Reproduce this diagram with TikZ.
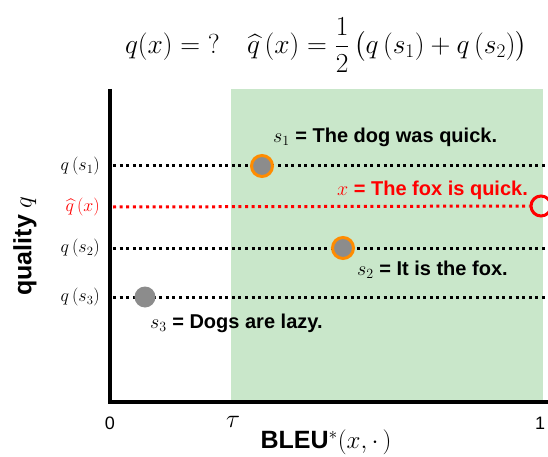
\RequirePackage{fix-cm}
\documentclass[tikz,border=0pt]{standalone}
\usepackage{amsmath}
\usepackage{fontspec}
\setsansfont{Liberation Sans}
\definecolor{regiongreen}{RGB}{201,231,202}
\definecolor{ringorange}{RGB}{255,140,0}
\definecolor{dotgray}{RGB}{140,140,140}
\tikzset{
  qline/.style={line width=3pt,dash pattern=on 3pt off 3.6pt},
  sample/.style={circle,fill=dotgray,draw=ringorange,line width=3pt,minimum size=21pt,inner sep=0pt},
  plainsample/.style={circle,fill=dotgray,minimum size=21pt,inner sep=0pt},
  qlabel/.style={anchor=east,font=\fontsize{18}{22}\selectfont,inner sep=0pt},
  sentence/.style={anchor=west,font=\fontsize{20}{24}\selectfont\sffamily\bfseries,inner sep=0pt},
  ticklabel/.style={inner sep=0pt,font=\fontsize{18}{20}\selectfont\sffamily}
}
\begin{document}
\begin{tikzpicture}[x=1pt,y=-1pt]
      \useasboundingbox (0,0) rectangle (548,457);

      % Region above the threshold
      \fill[regiongreen] (231,89) rectangle (543,402);

      % Axes
      \coordinate (origin) at (110,402);
      \draw[line width=4pt] (110,89)--(origin)--(548,402);
      \node[ticklabel] (tick0) at (110,423) {0};
      \node[ticklabel,font=\fontsize{26}{28}\selectfont] (ticktau) at (233,422) {$\tau$};
      \node[ticklabel] (tick1) at (540,423) {1};
      \node[inner sep=0pt,font=\fontsize{25}{28}\selectfont\sffamily\bfseries] (xlabel) at (326,442) {BLEU$^{\mathbf{*}}(x,\cdot\,)$};
      \node[rotate=90,inner sep=0pt,font=\fontsize{25}{28}\selectfont\sffamily\bfseries] (ylabel) at (25,246) {quality \textmd{$q$}};

      % Estimate
      \node[inner sep=0pt,font=\fontsize{27.5}{32}\selectfont] (formula) at (326,45)
        {$q(x) = {?} \quad \widehat{q}\,(x) = \dfrac{1}{2}\,\bigl(q\,(s_1) + q\,(s_2)\bigr)$};

      % Quality levels
      \node[qlabel] (l1) at (100,166) {$q\,(s_1)$};
      \node[qlabel,red] (lx) at (100,207) {$\widehat{q}\,(x)$};
      \node[qlabel] (l2) at (100,248) {$q\,(s_2)$};
      \node[qlabel] (l3) at (100,297) {$q\,(s_3)$};
      \coordinate (e1) at (548,166);
      \coordinate (e2) at (548,248);
      \coordinate (e3) at (548,297);
      \draw[qline] (l1.east -| origin) ++(3,0) -- (e1);
      \draw[qline] (l2.east -| origin) ++(3,0) -- (e2);
      \draw[qline] (l3.east -| origin) ++(3,0) -- (e3);

      % Query point
      \node[circle,draw=red,line width=3pt,minimum size=20pt,inner sep=0pt] (x) at (541,206) {};
      \draw[qline,red] (lx.east -| origin) ++(3,0) -- (x.west);
      \node[sentence,red] (xtext) at (337,190) {$x$ = The fox is quick.};

      % Samples
      \node[sample] (s1) at (262,166) {};
      \node[sample] (s2) at (343,248) {};
      \node[plainsample] (s3) at (145,297) {};
      \node[sentence] (s1text) at (273,137) {$s_1$ = The dog was quick.};
      \node[sentence] (s2text) at (357,270) {$s_2$ = It is the fox.};
      \node[sentence] (s3text) at (150,323) {$s_3$ = Dogs are lazy.};
    \end{tikzpicture}
\end{document}
